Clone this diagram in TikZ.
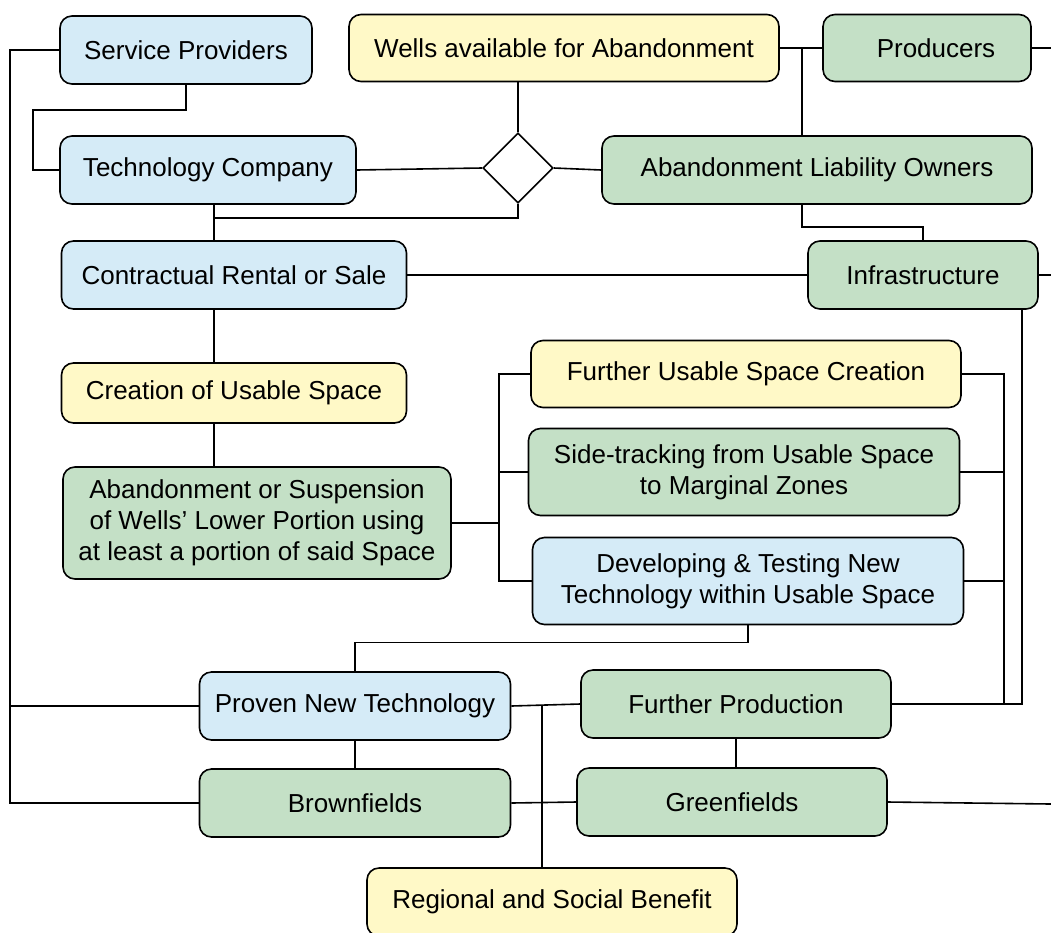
\documentclass[tikz,border=0pt]{standalone}
\usepackage{fontspec}
\setmainfont{Liberation Sans}
\usetikzlibrary{shapes.geometric}

\definecolor{boxblue}{RGB}{213,235,247}
\definecolor{boxyellow}{RGB}{255,249,199}
\definecolor{boxgreen}{RGB}{196,224,198}

\begin{document}
\begin{tikzpicture}[x=1pt, y=-1pt, line width=1.6pt,
    box/.style={draw, rounded corners=12pt, inner sep=0pt, align=center,
        font=\fontsize{26}{31}\selectfont},
    blu/.style={box, fill=boxblue},
    yel/.style={box, fill=boxyellow},
    grn/.style={box, fill=boxgreen}]

\useasboundingbox (0,0) rectangle (1051,932);

\draw
    node at(186,50)[blu,minimum width=252,minimum height=68,name=srvp]{Service Providers}
    node at(564,48)[yel,minimum width=430,minimum height=67,name=wells]{Wells available for Abandonment}
    node at(927,48)[grn,minimum width=208,minimum height=67,name=prod]{\hspace*{18pt}Producers}

    node at(208,170)[blu,minimum width=296,minimum height=68,name=tech]{Technology Company}
    node at(518,168)[draw,diamond,fill=white,aspect=1,minimum size=70,inner sep=0pt,name=dmd]{}
    node at(817,170)[grn,minimum width=430,minimum height=68,name=alo]{Abandonment Liability Owners}

    node at(234,275)[blu,minimum width=345,minimum height=68,name=crs]{Contractual Rental or Sale}
    node at(923,275)[grn,minimum width=230,minimum height=68,name=infra]{Infrastructure}

    node at(234,393)[yel,minimum width=345,minimum height=60,name=cus]{Creation of Usable Space}
    node at(257,523)[grn,minimum width=388,minimum height=112,name=aos]{Abandonment or Suspension\\of Wells' Lower Portion using\\at least a portion of said Space}

    node at(746,374)[yel,minimum width=430,minimum height=67,name=fusc]{Further Usable Space Creation}
    node at(744,472)[grn,minimum width=431,minimum height=87,name=strk]{Side-tracking from Usable Space\\to Marginal Zones}
    node at(748,581)[blu,minimum width=431,minimum height=87,name=dtnt]{Developing \& Testing New\\Technology within Usable Space}

    node at(355,706)[blu,minimum width=311,minimum height=68,name=pnt]{Proven New Technology}
    node at(736,704)[grn,minimum width=310,minimum height=68,name=fprod]{Further Production}
    node at(355,803)[grn,minimum width=311,minimum height=68,name=brown]{Brownfields}
    node at(732,802)[grn,minimum width=310,minimum height=68,name=green]{Greenfields}
    node at(552,902)[yel,minimum width=370,minimum height=68,name=rsb]{Regional and Social Benefit}
;

% junction points and loose ends
\coordinate (lft) at (10,50);
\coordinate (sp1) at (33,110);
\coordinate (tj) at (214,218);
\coordinate (wp) at (802,48);
\coordinate (lb) at (499,523);
\coordinate (rb) at (1004,704);
\coordinate (rb2) at (1022,704);
\coordinate (mb) at (542,705);
\coordinate (pe) at (1051,48);
\coordinate (ie) at (1051,275);
\coordinate (ge) at (1051,804);

    \draw(srvp.west) -- (lft) |- (brown.west);
    \draw(pnt.west) -- (pnt.west -| lft);
    \draw(srvp.south) |- (sp1) |- (tech.west);

    \draw(tech.east) -- (dmd.west);
    \draw(dmd.east) -- (alo.west);
    \draw(dmd.north) -- (dmd.north |- wells.south);
    \draw(dmd.south) |- (tj);
    \draw(tech.south -| tj) -- (crs.north -| tj);

    \draw(wells.east) -- (prod.west);
    \draw(wp) -- (wp |- alo.north);
    \draw(prod.east) -- (pe);
    \draw(alo.south -| wp) -- ++(0,22) -| (infra.north);
    \draw(crs.east) -- (infra.west);
    \draw(infra.east) -- (ie);

    \draw(crs.south -| tj) -- (cus.north -| tj);
    \draw(cus.south -| tj) -- (aos.north -| tj);

    \draw(aos.east) -- (lb);
    \draw(fusc.west) -| (lb) |- (dtnt.west);
    \draw(strk.west) -- (strk.west -| lb);

    \draw(fusc.east) -| (rb);
    \draw(strk.east) -- (strk.east -| rb);
    \draw(dtnt.east) -- (dtnt.east -| rb);
    \draw(infra.south -| rb2) -- (rb2) -- (fprod.east);

    \draw(dtnt.south) -- ++(0,17) -| (pnt.north);
    \draw(pnt.east) -- (fprod.west);
    \draw(mb) -- (mb |- rsb.north);
    \draw(pnt.south) -- (brown.north);
    \draw(fprod.south) -- (fprod.south |- green.north);
    \draw(brown.east) -- (green.west);
    \draw(green.east) -- (ge);

\end{tikzpicture}
\end{document}
